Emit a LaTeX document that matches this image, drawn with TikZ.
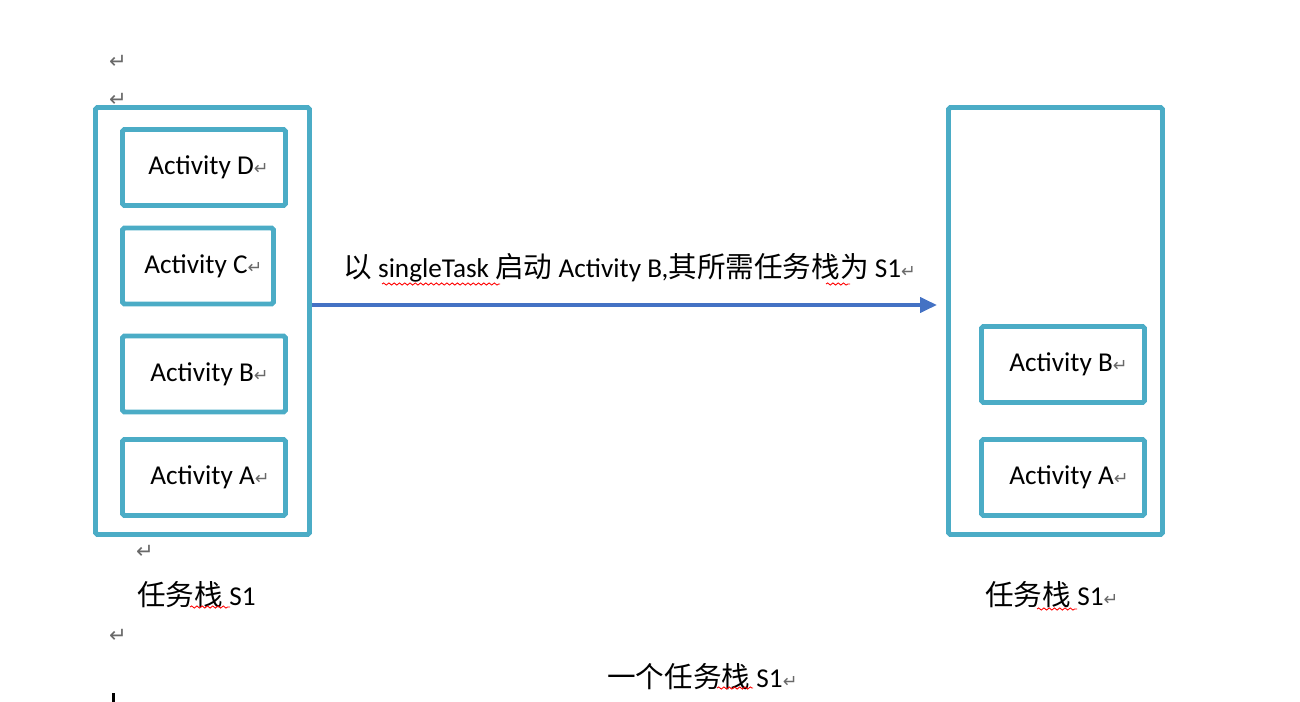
\documentclass[tikz,border=0pt]{standalone}
\usepackage{fontspec}
\setmainfont{Carlito}
\newfontfamily\cjk{Noto Sans CJK SC}[Scale=1.05]
\newfontfamily\symfont{DejaVu Sans}
\usetikzlibrary{arrows.meta,decorations.pathmorphing}

\definecolor{stackteal}{RGB}{75,172,198}
\definecolor{arrowblue}{RGB}{68,114,196}
\definecolor{markgray}{RGB}{105,105,105}

% paragraph mark as Word shows it
\newcommand{\retmark}{{\symfont\color{markgray}\fontsize{10}{10}\selectfont ↵}}

\begin{document}
\begin{tikzpicture}[x=0.02cm, y=-0.02cm,
    stackbox/.style={draw=stackteal, line width=2.8pt, rounded corners=1pt,
        minimum width=4.28cm, minimum height=8.54cm, inner sep=0pt},
    actbox/.style={draw=stackteal, line width=2.8pt, rounded corners=1pt,
        minimum width=3.26cm, minimum height=1.52cm, inner sep=0pt},
    acttext/.style={anchor=west, inner sep=0pt, font=\fontsize{15.5}{18}\selectfont},
    plaintext/.style={anchor=west, inner sep=0pt, font=\fontsize{15.5}{18}\selectfont},
    spellmark/.style={red, line width=0.5pt,
        decorate, decoration={snake, amplitude=0.6pt, segment length=3pt}}]

\useasboundingbox (0,0) rectangle (1300,702);

% Draw the two task stacks
\node[stackbox] (leftstack) at (202.5,321) {};
\node[stackbox] (rightstack) at (1055.5,321) {};

% Draw the activities of the left stack
\node[actbox] (leftD) at (204,167.5) {};
\node[actbox, minimum width=3.02cm] (leftC) at (198,266) {};
\node[actbox] (leftB) at (204,374) {};
\node[actbox] (leftA) at (204,477.5) {};

\node[acttext] (leftDtext) at ([xshift=0.56cm]leftD.west) {Activity D\retmark};
\node[acttext] (leftCtext) at ([xshift=0.48cm]leftC.west) {Activity C\retmark};
\node[acttext] (leftBtext) at ([xshift=0.60cm]leftB.west) {Activity B\retmark};
\node[acttext] (leftAtext) at ([xshift=0.60cm]leftA.west) {Activity A\retmark};

% Draw the activities of the right stack
\node[actbox] (rightB) at (1063,364.5) {};
\node[actbox] (rightA) at (1063,477.5) {};

\node[acttext] (rightBtext) at ([xshift=0.60cm]rightB.west) {Activity B\retmark};
\node[acttext] (rightAtext) at ([xshift=0.60cm]rightA.west) {Activity A\retmark};

% Draw the launch arrow
\coordinate (arrowy) at (0,305);
\coordinate (arrowend) at (937,305);
\draw[-{Triangle[length=0.34cm,width=0.30cm]}, arrowblue, line width=2.2pt]
    (leftstack.east |- arrowy) -- (arrowend);
\node[plaintext] (launchtext) at (343,268)
    {{\cjk 以} singleTask {\cjk 启动} Activity B,{\cjk 其所需任务栈为} S1\retmark};

% Label the stacks
\node[plaintext] (leftlabel) at (137,595) {{\cjk 任务栈} S1};
\node[plaintext] (rightlabel) at (985,595) {{\cjk 任务栈} S1\retmark};
\node[plaintext] (bottomlabel) at (607,677) {{\cjk 一个任务栈} S1\retmark};

% Paragraph marks of the page
\node[inner sep=0pt, scale=1.2] (ret1) at (118,62) {\retmark};
\node[inner sep=0pt, scale=1.2] (ret2) at (118,100) {\retmark};
\node[inner sep=0pt, scale=1.2] (ret3) at (145,552) {\retmark};
\node[inner sep=0pt, scale=1.2] (ret4) at (118,636) {\retmark};
\fill (112,693) rectangle (115,702);

% Spell check underlines
\draw[spellmark] (382,284) -- (500,284);
\draw[spellmark] (826,284) -- (850,284);
\draw[spellmark] (190,607) -- (230,607);
\draw[spellmark] (1037,609) -- (1077,609);
\draw[spellmark] (717,688) -- (753,688);

\end{tikzpicture}
\end{document}
